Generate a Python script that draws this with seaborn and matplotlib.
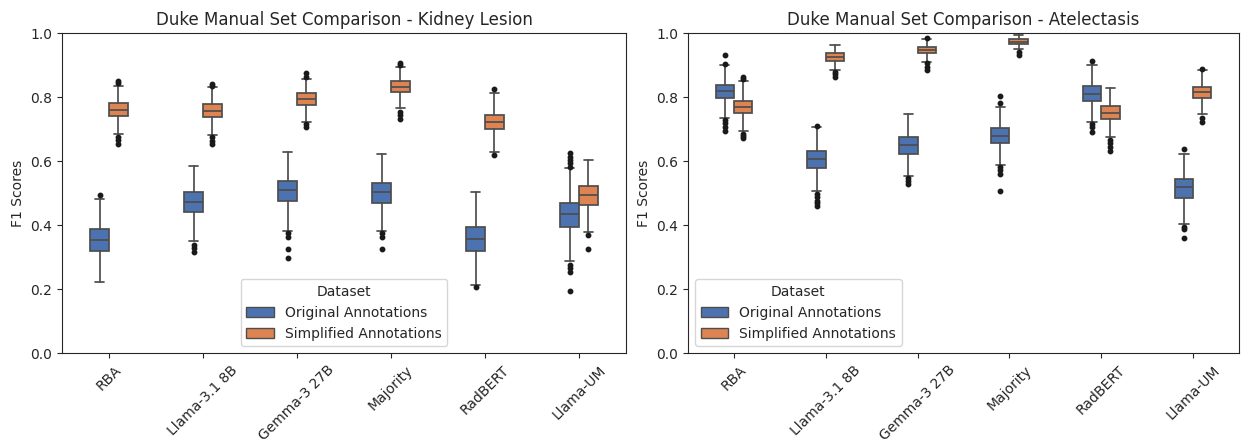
import numpy as np
import matplotlib
matplotlib.use("Agg")
import matplotlib.pyplot as plt
import seaborn as sns
from matplotlib.patches import Patch

sns.set_style("ticks")
plt.rcParams['font.family'] = ['DejaVu Sans']

models = ["RBA", "Llama-3.1 8B", "Gemma-3 27B", "Majority", "RadBERT", "Llama-UM"]
datasets = ["Original Annotations", "Simplified Annotations"]

# Kidney Lesion - Original Annotations
kid_orig_lo = [0.223, 0.351, 0.382, 0.382, 0.2125, 0.2875]
kid_orig_q1 = [0.320, 0.441, 0.475, 0.469, 0.320, 0.395]
kid_orig_med = [0.353, 0.472, 0.508, 0.502, 0.357, 0.433]
kid_orig_q3 = [0.3875, 0.502, 0.5375, 0.531, 0.393, 0.4695]
kid_orig_hi = [0.481, 0.584, 0.628, 0.622, 0.502, 0.579]
kid_orig_fliers = [
    [0.494],
    [0.3375, 0.327, 0.317],
    [0.374, 0.364, 0.325, 0.296],
    [0.374, 0.364, 0.326],
    [0.207],
    [0.624, 0.614, 0.603, 0.593, 0.582, 0.275, 0.265, 0.254, 0.195],
]

# Kidney Lesion - Simplified Annotations
kid_simp_lo = [0.683, 0.682, 0.723, 0.765, 0.628, 0.378]
kid_simp_q1 = [0.741, 0.738, 0.774, 0.815, 0.699, 0.464]
kid_simp_med = [0.761, 0.757, 0.794, 0.832, 0.721, 0.495]
kid_simp_q3 = [0.782, 0.777, 0.814, 0.850, 0.745, 0.523]
kid_simp_hi = [0.835, 0.830, 0.858, 0.895, 0.814, 0.603]
kid_simp_fliers = [
    [0.850, 0.845, 0.676, 0.666, 0.653],
    [0.840, 0.835, 0.675, 0.664, 0.654],
    [0.874, 0.8625, 0.716, 0.705],
    [0.907, 0.900, 0.754, 0.744, 0.733],
    [0.826, 0.619],
    [0.369, 0.326],
]

# Atelectasis - Original Annotations
ate_orig_lo = [0.736, 0.506, 0.554, 0.5875, 0.723, 0.402]
ate_orig_q1 = [0.798, 0.579, 0.623, 0.655, 0.788, 0.485]
ate_orig_med = [0.820, 0.605, 0.650, 0.678, 0.811, 0.518]
ate_orig_q3 = [0.8365, 0.631, 0.675, 0.702, 0.834, 0.545]
ate_orig_hi = [0.900, 0.707, 0.746, 0.770, 0.900, 0.621]
ate_orig_fliers = [
    [0.932, 0.902, 0.728, 0.718, 0.707, 0.695],
    [0.709, 0.497, 0.487, 0.476, 0.468, 0.459],
    [0.546, 0.537, 0.528],
    [0.804, 0.780, 0.580, 0.572, 0.561, 0.506],
    [0.913, 0.716, 0.705, 0.690],
    [0.638, 0.395, 0.387, 0.358],
]

# Atelectasis - Simplified Annotations
ate_simp_lo = [0.694, 0.884, 0.911, 0.949, 0.674, 0.746]
ate_simp_q1 = [0.751, 0.913, 0.9365, 0.965, 0.730, 0.798]
ate_simp_med = [0.770, 0.924, 0.947, 0.972, 0.751, 0.817]
ate_simp_q3 = [0.788, 0.9365, 0.957, 0.980, 0.772, 0.832]
ate_simp_hi = [0.850, 0.964, 0.982, 0.995, 0.829, 0.884]
ate_simp_fliers = [
    [0.862, 0.855, 0.686, 0.678, 0.671],
    [0.879, 0.872, 0.864],
    [0.985, 0.905, 0.895, 0.886],
    [0.942, 0.933],
    [0.666, 0.655, 0.645, 0.632],
    [0.8875, 0.736, 0.723],
]


def make_stats(lo, q1, med, q3, hi, fliers):
    return [dict(whislo=a, q1=b, med=c, q3=d, whishi=e, fliers=f, label="")
            for a, b, c, d, e, f in zip(lo, q1, med, q3, hi, fliers)]


panels = [
    ("Duke Manual Set Comparison - Kidney Lesion",
     [make_stats(kid_orig_lo, kid_orig_q1, kid_orig_med, kid_orig_q3, kid_orig_hi, kid_orig_fliers),
      make_stats(kid_simp_lo, kid_simp_q1, kid_simp_med, kid_simp_q3, kid_simp_hi, kid_simp_fliers)],
     "lower center"),
    ("Duke Manual Set Comparison - Atelectasis",
     [make_stats(ate_orig_lo, ate_orig_q1, ate_orig_med, ate_orig_q3, ate_orig_hi, ate_orig_fliers),
      make_stats(ate_simp_lo, ate_simp_q1, ate_simp_med, ate_simp_q3, ate_simp_hi, ate_simp_fliers)],
     "lower left"),
]

palette = sns.color_palette("deep", 2)
line_col = "0.3"

fig = plt.figure(figsize=(12.43, 4.41), dpi=100)
axes = [fig.add_axes([0.0499, 0.1995, 0.4537, 0.7255]),
        fig.add_axes([0.5535, 0.1995, 0.4433, 0.7255])]

x = np.arange(len(models))
for ax, (title, stats_pair, loc) in zip(axes, panels):
    for i, stats in enumerate(stats_pair):
        offset = -0.1 if i == 0 else 0.1
        ax.bxp(stats, positions=x + offset, widths=0.2, capwidths=0.1,
               patch_artist=True, manage_ticks=False,
               boxprops=dict(facecolor=palette[i], edgecolor=line_col, linewidth=1.25),
               medianprops=dict(color=line_col, linewidth=1.25),
               whiskerprops=dict(color=line_col, linewidth=1.25),
               capprops=dict(color=line_col, linewidth=1.25),
               flierprops=dict(marker="o", markerfacecolor="0.1", markeredgecolor="0.1",
                               markersize=3.2, linestyle="none"))
    ax.set_xlim(-0.5, len(models) - 0.5)
    ax.set_ylim(0, 1)
    ax.set_xticks(x)
    ax.set_xticklabels(models, rotation=45)
    ax.set_yticks(np.arange(0, 1.01, 0.2))
    ax.set_title(title, fontsize=12)
    ax.set_ylabel("F1 Scores", fontsize=10)
    ax.tick_params(labelsize=10)
    handles = [Patch(facecolor=palette[i], edgecolor=line_col, label=datasets[i]) for i in range(2)]
    ax.legend(handles=handles, title="Dataset", loc=loc, fontsize=10, title_fontsize=10)

fig.savefig("out.png", dpi=100)
